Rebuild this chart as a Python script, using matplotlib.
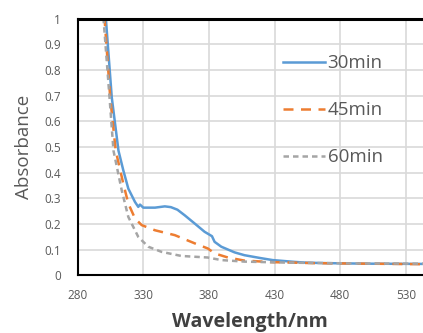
import numpy as np
import matplotlib
matplotlib.use('Agg')
import matplotlib.pyplot as plt

plt.rcParams['font.family'] = ['Open Sans', 'DejaVu Sans']

# wavelength (nm) and absorbance
wl_30 = [299.0, 301.5, 306.0, 311.1, 314.8, 318.6, 323.7, 326.2, 327.5, 330.0, 338.9, 346.4, 351.0, 356.0,
         361.6, 369.2, 376.7, 382.3, 384.3, 389.4, 399.5, 407.0, 419.0, 428.5, 445.0, 453.8, 470.0, 500.0, 543.0]
ab_30 = [1.08, 1.0, 0.693, 0.486, 0.409, 0.338, 0.286, 0.267, 0.276, 0.264, 0.264, 0.269, 0.266, 0.256,
         0.234, 0.202, 0.170, 0.153, 0.131, 0.112, 0.090, 0.079, 0.068, 0.060, 0.053, 0.050, 0.048, 0.046, 0.045]

wl_45 = [298.0, 300.5, 304.8, 309.0, 314.8, 318.6, 323.7, 328.8, 338.9, 354.0, 369.2, 379.2, 384.3,
         394.4, 407.0, 428.0, 460.0, 500.0, 543.0]
ab_45 = [1.08, 1.0, 0.693, 0.486, 0.357, 0.280, 0.222, 0.196, 0.176, 0.157, 0.125, 0.105, 0.086,
         0.070, 0.058, 0.052, 0.048, 0.046, 0.044]

wl_60 = [297.0, 299.7, 304.3, 307.3, 313.6, 318.6, 326.2, 333.8, 343.9, 359.0, 379.0, 389.4, 407.0,
         440.0, 490.0, 543.0]
ab_60 = [1.08, 1.0, 0.693, 0.486, 0.331, 0.228, 0.150, 0.112, 0.092, 0.076, 0.070, 0.060, 0.054,
         0.050, 0.047, 0.046]

x_ticks = [280, 330, 380, 430, 480, 530]
y_ticks = np.arange(0, 1.01, 0.1)

fig = plt.figure(figsize=(4.23, 3.33), dpi=100)
ax = fig.add_axes([0.1835, 0.1727, 0.8165, 0.7717])

ax.plot(wl_30, ab_30, color='#5B9BD5', lw=1.8, label='30min')
ax.plot(wl_45, ab_45, color='#ED7D31', lw=1.8, dashes=(4, 3), label='45min')
ax.plot(wl_60, ab_60, color='#A5A5A5', lw=1.8, dashes=(2.2, 1.6), label='60min')

ax.set_xlim(280, 543)
ax.set_ylim(0, 1)
ax.set_xticks(x_ticks)
ax.set_yticks(y_ticks)
ax.set_yticklabels(['0'] + ['%.1f' % v for v in y_ticks[1:-1]] + ['1'])
ax.grid(color='#D9D9D9', lw=1.2)
ax.set_axisbelow(True)
ax.tick_params(length=0, labelsize=8.5, labelcolor='#595959')
ax.tick_params(axis='y', pad=12)
ax.tick_params(axis='x', pad=10)

for s in ['left', 'bottom']:
    ax.spines[s].set_color('black')
    ax.spines[s].set_linewidth(1.5)
ax.spines['top'].set_color('black')
ax.spines['top'].set_linewidth(2.2)
ax.spines['right'].set_visible(False)

ax.set_xlabel('Wavelength/nm', fontsize=14, fontweight='bold', color='#404040', labelpad=7)
ax.set_ylabel('Absorbance', fontsize=13.5, color='#595959', labelpad=8)

leg = ax.legend(loc='upper left', bbox_to_anchor=(0.572, 0.89), frameon=False, fontsize=13.5,
                labelspacing=1.55, handlelength=2.25, handletextpad=0.15, borderaxespad=0)
for t in leg.get_texts():
    t.set_color('#595959')

fig.savefig('out.png', dpi=100)
